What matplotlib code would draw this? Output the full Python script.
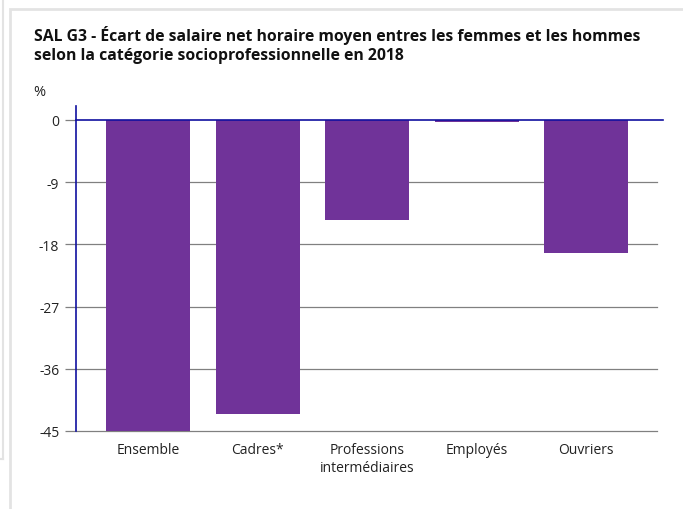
import matplotlib.pyplot as plt
from matplotlib.patches import Rectangle
from matplotlib.lines import Line2D

plt.rcParams['font.family'] = ['Open Sans', 'DejaVu Sans']

categories = ['Ensemble', 'Cadres*', 'Professions\nintermédiaires', 'Employés', 'Ouvriers']
ecart = [-45.0, -42.5, -14.4, -0.3, -19.2]
yticks = [0, -9, -18, -27, -36, -45]

W, H = 683, 510
fig = plt.figure(figsize=(W / 100, H / 100), dpi=100)

# page frame decoration
fig.add_artist(Rectangle((10 / W, -0.1), 1.0, 1 - 10 / H + 0.1, transform=fig.transFigure,
                         facecolor='none', edgecolor='#e3e3e3', linewidth=2))
fig.add_artist(Line2D([3 / W, 3 / W], [1, 1 - 460 / H], transform=fig.transFigure,
                      color='#e3e3e3', linewidth=1.5))
fig.add_artist(Line2D([0, 3 / W], [1 - 460 / H, 1 - 460 / H], transform=fig.transFigure,
                      color='#e3e3e3', linewidth=1.5))

# axes: left 76px, right 657px, top y=107px, bottom y=432px
top_px, zero_px, bot_px = 107, 121, 432
px_per_unit = (bot_px - zero_px) / 45
ymax = (zero_px - top_px) / px_per_unit
ax = fig.add_axes([76 / W, 1 - bot_px / H, (657 - 76) / W, (bot_px - top_px) / H])

x = list(range(len(categories)))
ax.bar(x, ecart, width=0.767, color='#703399', zorder=2)

ax.set_xlim(-0.658, 4.648)
ax.set_ylim(-45, ymax)
ax.set_yticks(yticks)
ax.set_yticklabels([str(v) for v in yticks], fontsize=10, color='#222222')
for v in yticks[1:]:
    ax.axhline(v, color='#808080', linewidth=0.9, zorder=1, clip_on=False)
ax.tick_params(axis='y', length=8, width=0.9, color='#808080', pad=4)
ax.tick_params(axis='x', length=0, pad=8)
ax.set_xticks(x)
ax.set_xticklabels(categories, fontsize=10, color='#222222', linespacing=1.25)

for s in ['top', 'right', 'bottom']:
    ax.spines[s].set_visible(False)
ax.spines['left'].set_color('#1010a0')
ax.spines['left'].set_linewidth(1.2)

# zero line extends slightly past the grid
ax.plot([-0.658, 4.648 + 6 / 109.5], [0, 0], color='#1010a0', linewidth=1.2,
        clip_on=False, zorder=3)

fig.text(34 / W, 1 - 26 / H, 'SAL G3 - Écart de salaire net horaire moyen entres les femmes et les hommes\n'
         'selon la catégorie socioprofessionnelle en 2018',
         fontsize=11.3, fontweight='bold', color='#111111', va='top', ha='left', linespacing=1.25)
fig.text(33 / W, 1 - 93 / H, '%', fontsize=10.5, color='#222222', va='center', ha='left')

fig.savefig('out.png', dpi=100)
